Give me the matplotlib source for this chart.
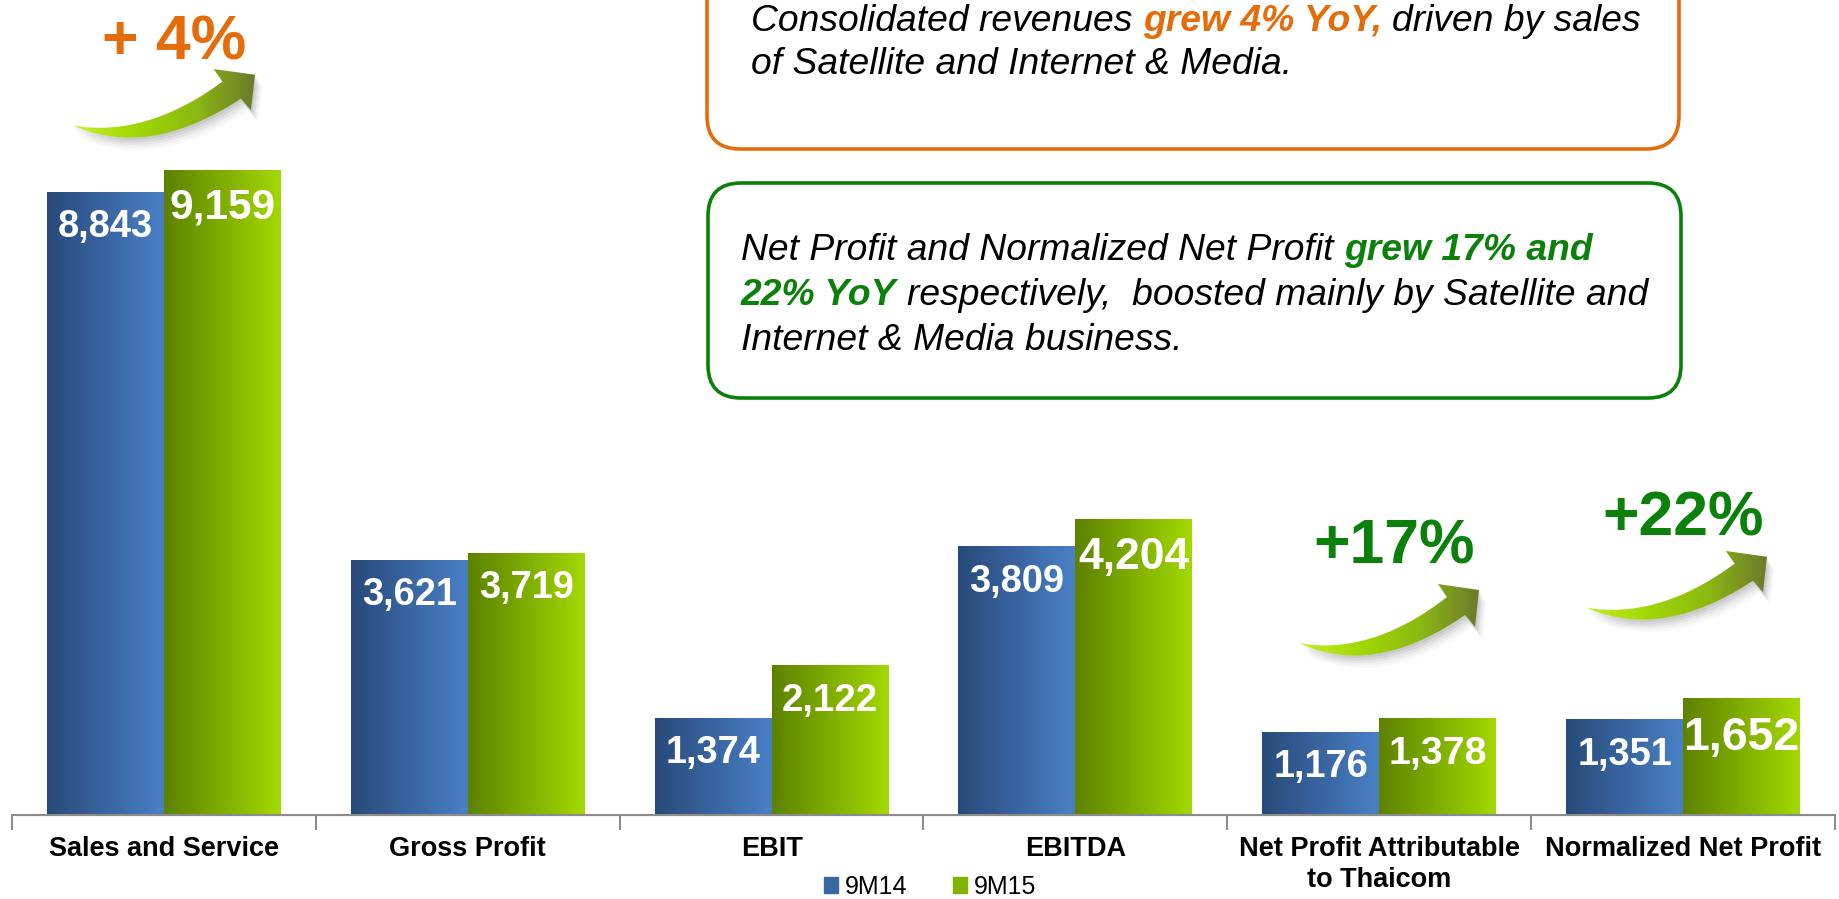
import numpy as np
import matplotlib
matplotlib.use('Agg')
import matplotlib.pyplot as plt
from matplotlib.patches import FancyBboxPatch, Polygon, Patch
from matplotlib.colors import LinearSegmentedColormap

plt.rcParams['font.family'] = ['Liberation Sans', 'DejaVu Sans']

# data (THB million)
categories = ['Sales and Service', 'Gross Profit', 'EBIT', 'EBITDA',
              'Net Profit Attributable\nto Thaicom', 'Normalized Net Profit']
values_9m14 = [8843, 3621, 1374, 3809, 1176, 1351]
values_9m15 = [9159, 3719, 2122, 4204, 1378, 1652]
series_names = ['9M14', '9M15']
growth_labels = ['+ 4%', '+17%', '+22%']

# the slide's value labels are not all the same size
label_size_9m14 = [27.4] * 6
label_size_9m15 = [30.5, 27.4, 27.7, 32, 28.4, 33.5]

ORANGE = '#e46c0a'
GREEN = '#0b800b'

W, H = 1839, 899
fig = plt.figure(figsize=(W / 100, H / 100), dpi=100)
ax = fig.add_axes([12 / W, 84 / H, 1823 / W, 815 / H])

blue_cmap = LinearSegmentedColormap.from_list('blue', ['#284a7a', '#4a80c6'])
green_cmap = LinearSegmentedColormap.from_list('green', ['#5c8200', '#a3d900'])
grad = np.linspace(0, 1, 256).reshape(1, -1)

x = np.arange(len(categories))
width = 0.385


def gradient_bars(ax, xs, vals, cmap, sizes):
    bars = ax.bar(xs, vals, width, color='none', edgecolor='none')
    for b, v, fs in zip(bars, vals, sizes):
        x0 = b.get_x()
        ax.imshow(grad, cmap=cmap, aspect='auto', interpolation='bilinear',
                  extent=(x0, x0 + b.get_width(), 0, b.get_height()), zorder=2)
        ax.annotate(f'{v:,}', (x0 + b.get_width() / 2, v),
                    xytext=(0, -(fs * 0.55 + 10)),
                    textcoords='offset points', ha='center', va='center',
                    color='white', fontsize=fs, fontweight='bold', zorder=5)
    return bars


gradient_bars(ax, x - width / 2, values_9m14, blue_cmap, label_size_9m14)
gradient_bars(ax, x + width / 2, values_9m15, green_cmap, label_size_9m15)

ax.set_xlim(-0.5, len(categories) - 0.5)
ax.set_ylim(0, 11580)
for s in ['top', 'right', 'left']:
    ax.spines[s].set_visible(False)
ax.spines['bottom'].set_color('#8c8c8c')
ax.spines['bottom'].set_linewidth(1.5)
ax.set_yticks([])
ax.set_xticks(np.arange(-0.5, len(categories), 1))
ax.set_xticklabels([])
ax.tick_params(axis='x', which='major', length=11, width=1.5, color='#8c8c8c')
ax.set_xticks(x, minor=True)
ax.set_xticklabels(categories, minor=True, fontsize=19.5, fontweight='bold',
                   linespacing=1.25)
ax.tick_params(axis='x', which='minor', length=0, pad=15)
ax.patch.set_visible(False)

fig.legend(handles=[Patch(color='#3a66a4'), Patch(color='#80b400')],
           labels=series_names, loc='center', bbox_to_anchor=(930 / W, 12 / H),
           ncol=2, frameon=False, fontsize=18, handlelength=0.56,
           handleheight=0.6, handletextpad=0.3, columnspacing=1.8)

# overlay in pixel units for the call-outs
ov = fig.add_axes([0, 0, 1, 1])
ov.set_axis_off()
ov.patch.set_visible(False)

arrow_cmap = LinearSegmentedColormap.from_list(
    'arrow', ['#c4f02a', '#a2d804', '#8cba12', '#6c7a2c'])


def bezier(p0, p1, p2, n=60):
    t = np.linspace(0, 1, n)[:, None]
    return (1 - t) ** 2 * np.array(p0) + 2 * (1 - t) * t * np.array(p1) + t ** 2 * np.array(p2)


def curved_arrow(ov, x0, y0, w, h):
    # outline drawn in a 180 x 72 box, then stretched to the target box
    lower = bezier((0, 13), (75, -22), (166, 41))
    upper = bezier((0, 13), (72, 0), (148, 59))
    head = np.array([(176, 29), (180, 66), (139, 72)])
    pts = np.vstack([lower, head, upper[::-1]])
    pts = pts * [w / 180, h / 72] + [x0, y0]
    for k, a in [(1, 0.10), (2, 0.09), (3, 0.07), (4, 0.05), (5, 0.03)]:
        ov.add_patch(Polygon(pts + [1.5 * k, -2.5 * k], closed=True, facecolor='#555555',
                             edgecolor='none', alpha=a, zorder=1))
    poly = Polygon(pts, closed=True, facecolor='none', edgecolor='none', zorder=2)
    ov.add_patch(poly)
    im = ov.imshow(grad, cmap=arrow_cmap, aspect='auto', interpolation='bilinear',
                   extent=(x0, x0 + w, y0, y0 + h), zorder=2)
    im.set_clip_path(poly)


curved_arrow(ov, 73, 761, 182, 69)
curved_arrow(ov, 1299, 243, 180, 72)
curved_arrow(ov, 1586, 279, 181, 69)

ov.text(174, 861 - 22, growth_labels[0], color=ORANGE, fontsize=45,
        fontweight='bold', ha='center', va='baseline')
ov.text(1394, 357 - 22, growth_labels[1], color=GREEN, fontsize=45,
        fontweight='bold', ha='center', va='baseline')
ov.text(1683, 385 - 22, growth_labels[2], color=GREEN, fontsize=45,
        fontweight='bold', ha='center', va='baseline')

# text boxes
ov.add_patch(FancyBboxPatch((707, 750), 972, 220,
                            boxstyle='round,pad=0,rounding_size=33',
                            facecolor='white', edgecolor=ORANGE, lw=2.6, zorder=3))
ov.add_patch(FancyBboxPatch((708, 501), 973, 215,
                            boxstyle='round,pad=0,rounding_size=33',
                            facecolor='white', edgecolor=GREEN, lw=2.6, zorder=3))

TXT = 26.8
SPACE = 0.278 * TXT


def rich_line(ov, x, y, parts):
    prev = None
    for text, color, bold in parts:
        kw = dict(color=color, fontsize=TXT, fontstyle='italic',
                  fontweight='bold' if bold else 'normal', zorder=4)
        if prev is None:
            prev = ov.text(x, y, text, ha='left', va='baseline', **kw)
        else:
            prev = ov.annotate(text, xy=(1, 0), xycoords=prev, xytext=(SPACE, 0),
                               textcoords='offset points', ha='left', va='bottom', **kw)


rich_line(ov, 751, 868, [('Consolidated revenues', 'black', False),
                         ('grew 4% YoY,', ORANGE, True),
                         ('driven by sales', 'black', False)])
rich_line(ov, 751, 825, [('of Satellite and Internet & Media.', 'black', False)])

rich_line(ov, 741, 639, [('Net Profit and Normalized Net Profit', 'black', False),
                         ('grew 17% and', GREEN, True)])
rich_line(ov, 741, 594, [('22% YoY', GREEN, True),
                         ('respectively,  boosted mainly by Satellite and', 'black', False)])
rich_line(ov, 741, 549, [('Internet & Media business.', 'black', False)])

ov.set_xlim(0, W)
ov.set_ylim(0, H)

fig.savefig('out.png', dpi=100)
